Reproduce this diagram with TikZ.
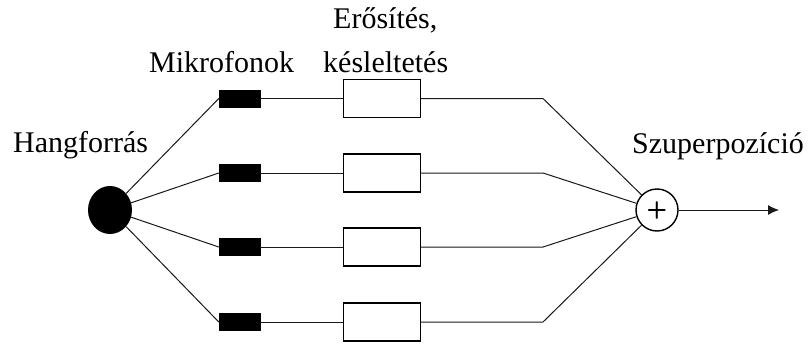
\documentclass[tikz,border=0pt]{standalone}
\usepackage{fontspec}
\setmainfont{Liberation Serif}
\usetikzlibrary{arrows.meta,shapes.geometric}
\begin{document}
\begin{tikzpicture}[x=1pt,y=-1pt,
 lbl/.style={font=\fontsize{30}{32}\selectfont, inner sep=0, anchor=base west},
 mic/.style={draw=black, fill=black, minimum width=41pt, minimum height=17pt, inner sep=0},
 gain/.style={draw=black, line width=1.1pt, fill=white, minimum width=77pt, minimum height=38pt, inner sep=0},
 wire/.style={line width=1pt, draw=black!90}]
\useasboundingbox (0,0) rectangle (810,345);
\node[ellipse, fill=black, minimum width=44pt, minimum height=48pt, inner sep=0] (src) at (110,210) {};
\node[circle, draw=black, line width=1.4pt, minimum size=42pt, inner sep=0,
  font=\fontsize{24}{24}\selectfont\sffamily\bfseries] (sum) at (657,210) {+};
\foreach \i/\y in {1/98.5, 2/173, 3/247, 4/322}{
  \node[mic] (m\i) at (239.5,\y) {};
  \node[gain] (g\i) at (382,\y) {};
  \coordinate (k\i) at (543,\y);
  \draw[wire] (src) -- (m\i.west);
  \draw[wire] (m\i) -- (g\i);
  \draw[wire] (g\i) -- (k\i) -- (sum);
}
\coordinate (out) at (779,210);
\draw[wire,-{Latex[length=11pt,width=10pt]}] (sum) -- (out);
\node[lbl] (t1) at (13,152) {Hangforrás};
\node[lbl] (t2) at (149,72) {Mikrofonok};
\node[lbl] (t3) at (323,72) {késleltetés};
\node[lbl] (t4) at (333,29) {Erősítés,};
\node[lbl] (t5) at (632,153) {Szuperpozíció};
\end{tikzpicture}
\end{document}
